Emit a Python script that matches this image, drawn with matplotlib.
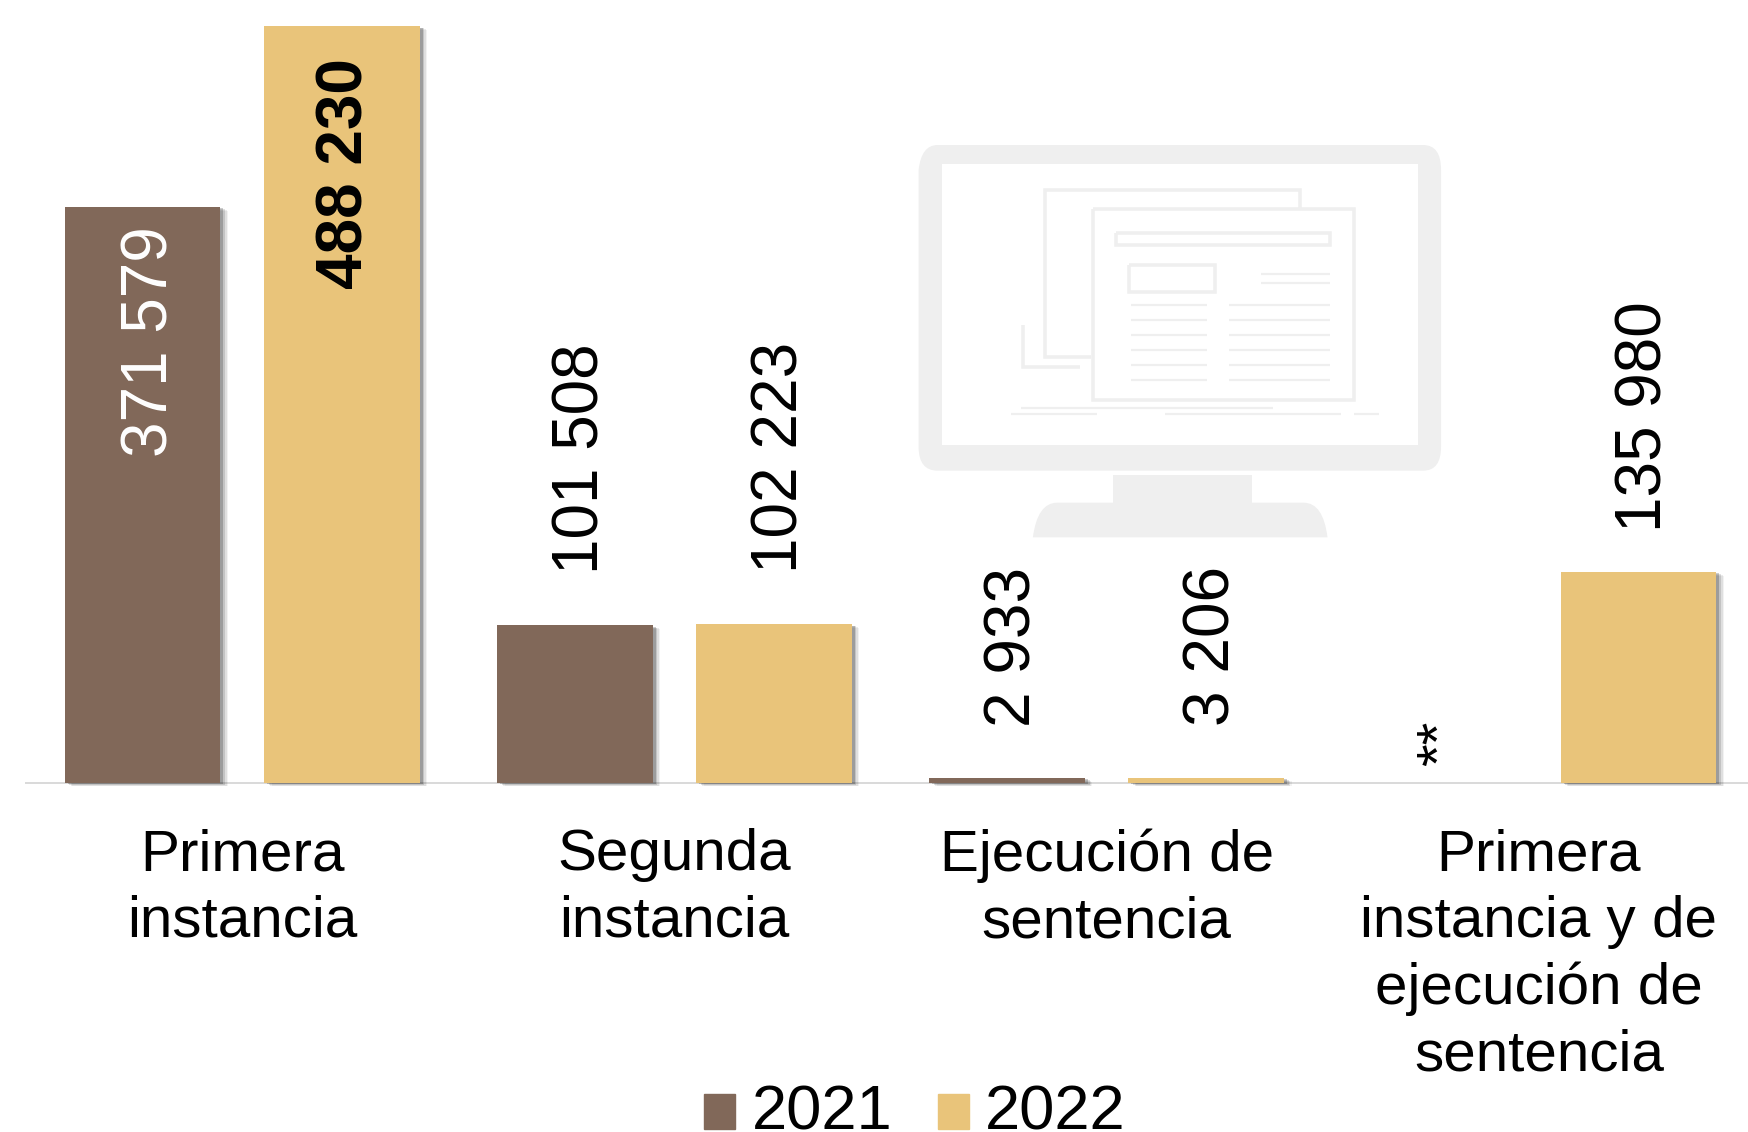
import matplotlib
matplotlib.use('Agg')
import matplotlib.pyplot as plt
import matplotlib.patheffects as pe
from matplotlib.patches import Patch, Rectangle, PathPatch
from matplotlib.path import Path
from matplotlib.legend_handler import HandlerPatch

categories = ['Primera\ninstancia', 'Segunda\ninstancia', 'Ejecución de\nsentencia',
              'Primera\ninstancia y de\nejecución de\nsentencia']
years = ['2021', '2022']
values_2021 = [371579, 101508, 2933, None]
values_2022 = [488230, 102223, 3206, 135980]
labels_2021 = ['371 579', '101 508', '2 933', '**']
labels_2022 = ['488 230', '102 223', '3 206', '135 980']

W, H = 1748, 1132
BROWN = '#816859'
GOLD = '#E9C47A'
GHOST = '#EFEFEF'

plt.rcParams['font.family'] = ['Liberation Sans', 'DejaVu Sans']
fig = plt.figure(figsize=(W / 100, H / 100), dpi=100, facecolor='white')

# monitor drawn behind the chart, in pixel coordinates
bg = fig.add_axes([0, 0, 1, 1], zorder=0)
bg.set_xlim(0, W)
bg.set_ylim(H, 0)
bg.axis('off')


def zx(v):
    return 900 + v / 2.8


def zy(v):
    return 130 + v / 3


def line(pts, lw):
    bg.plot([zx(p[0]) for p in pts], [zy(p[1]) for p in pts], color=GHOST,
            lw=lw * 0.72, solid_capstyle='butt', solid_joinstyle='miter')


def shape(pts, codes):
    bg.add_patch(PathPatch(Path([(zx(p[0]), zy(p[1])) for p in pts], codes), fc=GHOST, ec='none'))


M, L, C = Path.MOVETO, Path.LINETO, Path.CURVE3
shape([(52, 120), (60, 45), (105, 45), (1465, 45), (1515, 45), (1515, 120), (1515, 950),
       (1515, 1022), (1465, 1022), (105, 1022), (52, 1022), (52, 950), (52, 120)],
      [M, C, C, L, C, C, L, C, C, L, C, C, L])
bg.add_patch(Rectangle((zx(118), zy(103)), 1332 / 2.8, 842 / 3, fc='white', ec='none'))
bg.add_patch(Rectangle((zx(595), zy(1035)), 390 / 2.8, 90 / 3, fc=GHOST, ec='none'))
shape([(372, 1222), (385, 1118), (440, 1118), (1130, 1118), (1185, 1118), (1197, 1222), (372, 1222)],
      [M, C, C, L, C, C, L])

line([(535, 680), (405, 680), (405, 180), (1120, 180), (1120, 235)], 3.5)
line([(345, 585), (345, 712), (505, 712)], 3.5)
for x0, x1, y0, y1 in [(540, 1270, 237, 810), (605, 1205, 308, 345), (640, 882, 405, 485)]:
    line([(x0, y0), (x1, y0), (x1, y1), (x0, y1), (x0, y0)], 3.5)
for y in [431, 458]:
    line([(1010, y), (1205, y)], 2.2)
for y in [526, 571, 616, 661, 706, 751]:
    line([(647, y), (860, y)], 2.2)
    line([(920, y), (1205, y)], 2.2)
line([(340, 834), (1045, 834)], 2.2)
for x0, x1 in [(312, 552), (742, 1235), (1270, 1342)]:
    line([(x0, 853), (x1, 853)], 2.2)

# chart axes, runs slightly past the right edge like the original
base_y = 782.5
top_y = 26
ax = fig.add_axes([26 / W, (H - base_y) / H, 1729 / W, (base_y - top_y) / H], zorder=1)
ax.patch.set_alpha(0)
ax.set_xlim(-0.5, 3.5)
ax.set_ylim(0, 488230)
for s in ['top', 'left', 'right']:
    ax.spines[s].set_visible(False)
ax.spines['bottom'].set_color('#D9D9D9')
ax.spines['bottom'].set_linewidth(1.4)
ax.set_yticks([])
ax.set_xticks(range(4))
ax.set_xticklabels(categories, fontsize=42, linespacing=1.3)
ax.tick_params(axis='x', length=0, pad=33)

shadow = [pe.SimplePatchShadow(offset=(o, -o * 0.5), shadow_rgbFace='k', alpha=a)
          for o, a in [(5.5, 0.05), (4.5, 0.08), (3.4, 0.12), (2.2, 0.2)]] + [pe.Normal()]

offset = 0.2304
width = 0.36
for i in range(4):
    if values_2021[i] is not None:
        ax.bar(i - offset, values_2021[i], width, color=BROWN, zorder=3, path_effects=shadow, clip_on=False)
    ax.bar(i + offset, values_2022[i], width, color=GOLD, zorder=3, path_effects=shadow, clip_on=False)

label_fs = 46
ax.annotate(labels_2021[0], (0 - offset, values_2021[0]), xytext=(6, -14), textcoords='offset points',
            rotation=90, ha='center', va='top', fontsize=label_fs, color='white', zorder=4)
ax.annotate(labels_2022[0], (0 + offset, values_2022[0]), xytext=(2.5, -23), textcoords='offset points',
            rotation=90, ha='center', va='top', fontsize=label_fs, color='black',
            fontweight='bold', zorder=4)
for i in [1, 2]:
    ax.annotate(labels_2021[i], (i - offset, values_2021[i]), xytext=(4.5, 37), textcoords='offset points',
                rotation=90, ha='center', va='bottom', fontsize=label_fs, zorder=4)
    ax.annotate(labels_2022[i], (i + offset, values_2022[i]), xytext=(4.5, 37), textcoords='offset points',
                rotation=90, ha='center', va='bottom', fontsize=label_fs, zorder=4)
ax.annotate(labels_2022[3], (3 + offset, values_2022[3]), xytext=(4.5, 29), textcoords='offset points',
            rotation=90, ha='center', va='bottom', fontsize=label_fs, zorder=4)
ax.annotate(labels_2021[3], (3 - offset, 0), xytext=(2, 12), textcoords='offset points',
            rotation=90, ha='center', va='bottom', fontsize=42, zorder=4)


def square(legend, orig_handle, xdescent, ydescent, width, height, fontsize):
    return Rectangle((-xdescent, -ydescent - 3.5), width, height)


handles = [Patch(color=BROWN), Patch(color=GOLD)]
fig.legend(handles, years, loc='lower left', bbox_to_anchor=(704 / W, -10 / H), ncol=2, frameon=False,
           fontsize=45.5, handlelength=0.49, handleheight=0.49, handletextpad=0.26,
           columnspacing=0.72, borderpad=0, borderaxespad=0,
           handler_map={Patch: HandlerPatch(patch_func=square)})

fig.savefig('out.png', dpi=100, facecolor='white')
